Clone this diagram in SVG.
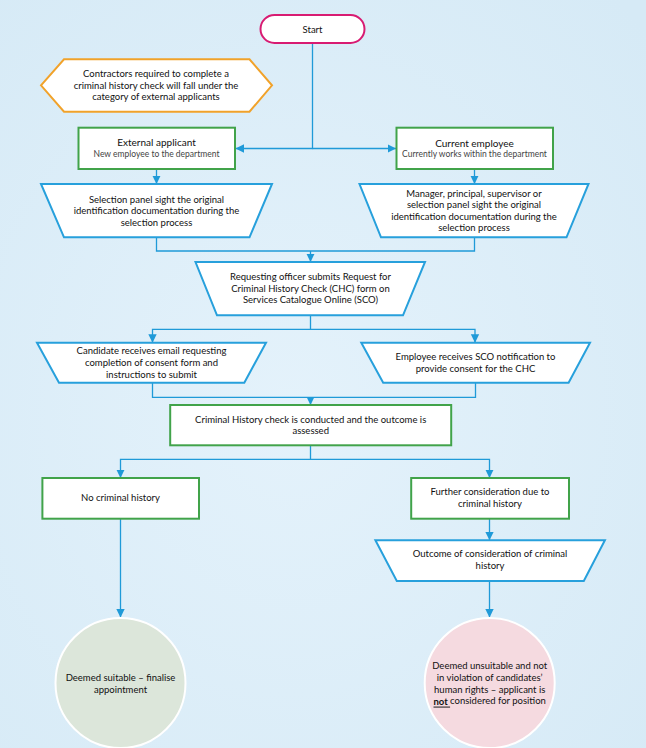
<svg xmlns="http://www.w3.org/2000/svg" width="646" height="748" viewBox="0 0 646 748">
<defs>
<radialGradient id="bg" cx="0.45" cy="0.55" r="0.75">
<stop offset="0" stop-color="#e4f2fb"/>
<stop offset="1" stop-color="#d6eaf6"/>
</radialGradient>
<marker id="ah" markerUnits="userSpaceOnUse" markerWidth="10" markerHeight="10" refX="8.5" refY="5" orient="auto">
<path d="M0,0.8 L8.5,5 L0,9.2 z" fill="#1f9ad8"/>
</marker>
<style>
text{font-family:Lato,"Open Sans",sans-serif;font-size:9.5px;fill:#111;text-anchor:middle;dominant-baseline:central}
.sub{font-size:8.5px;fill:#444}
.hd{font-size:10px}
.term{fill:#fff;stroke:#d81b72;stroke-width:2}
.note{fill:#fff;stroke:#f1a22a;stroke-width:2}
.proc{fill:#fff;stroke:#41a34a;stroke-width:2}
.io{fill:#fff;stroke:#27a0dc;stroke-width:2}
.ok{fill:#dce6da;stroke:#fff;stroke-width:2}
.no{fill:#f5dae0;stroke:#fff;stroke-width:2}
.c path{fill:none;stroke:#1f9ad8;stroke-width:1.3}
.arr{marker-end:url(#ah)}
</style>
</defs>
<rect width="646" height="748" fill="url(#bg)"/>
<g class="c" id="connectors">
<path class="arr" d="M312.5,43 V148.5 H235.5"/>
<path class="arr" d="M312.5,148.5 H396"/>
<path class="arr" d="M156.5,169 V184"/>
<path class="arr" d="M474.5,169 V184"/>
<path d="M156.5,237.3 V251 H474.5 V237.3"/>
<path class="arr" d="M310.5,251 V262"/>
<path class="arr" d="M310.5,315.3 V329.3 H152.5 V342.7"/>
<path class="arr" d="M310.5,329.3 H475 V342.7"/>
<path d="M152.5,382.7 V397.3 H475.5 V382.7"/>
<path class="arr" d="M310.5,397.3 V405"/>
<path class="arr" d="M310.5,445.3 V459.3 H120.5 V478"/>
<path class="arr" d="M310.5,459.3 H489.5 V478"/>
<path class="arr" d="M120.5,518.7 V617.5"/>
<path class="arr" d="M489.5,518.7 V540.3"/>
<path class="arr" d="M489.5,581 V617.5"/>
</g>
<g id="start">
<rect class="term" x="260.5" y="15" width="104" height="28" rx="14"/>
<text x="312.5" y="29">Start</text>
</g>
<g id="note">
<polygon class="note" points="41,85.3 64,59.3 249.5,59.3 272,85.3 249.5,111.7 64,111.7"/>
<text x="156" y="73.4">Contractors required to complete a</text>
<text x="156" y="85">criminal history check will fall under the</text>
<text x="156" y="96.6">category of external applicants</text>
</g>
<g id="external">
<rect class="proc" x="78.5" y="127.7" width="156.5" height="41.3"/>
<text class="hd" x="156.5" y="141.7">External applicant</text>
<text class="sub" x="156.5" y="154.3">New employee to the department</text>
</g>
<g id="current">
<rect class="proc" x="396.5" y="127.7" width="156.5" height="41.3"/>
<text class="hd" x="474.5" y="142.5">Current employee</text>
<text class="sub" x="474.5" y="154">Currently works within the department</text>
</g>
<g id="sight-external">
<polygon class="io" points="41,184 272,184 249.5,237.3 64,237.3"/>
<text x="156.5" y="199.1">Selection panel sight the original</text>
<text x="156.5" y="210.7">identification documentation during the</text>
<text x="156.5" y="222.3">selection process</text>
</g>
<g id="sight-current">
<polygon class="io" points="359.5,184 588.5,184 566.5,237.3 381,237.3"/>
<text x="474" y="193.1">Manager, principal, supervisor or</text>
<text x="474" y="204.7">selection panel sight the original</text>
<text x="474" y="216.3">identification documentation during the</text>
<text x="474" y="227.9">selection process</text>
</g>
<g id="request">
<polygon class="io" points="195.5,262 425,262 403,315.3 217,315.3"/>
<text x="310.5" y="276.7">Requesting officer submits Request for</text>
<text x="310.5" y="288.3">Criminal History Check (CHC) form on</text>
<text x="310.5" y="299.9">Services Catalogue Online (SCO)</text>
</g>
<g id="candidate-email">
<polygon class="io" points="37,342.7 266,342.7 244.3,382.7 59,382.7"/>
<text x="151.5" y="350.8">Candidate receives email requesting</text>
<text x="151.5" y="362.4">completion of consent form and</text>
<text x="151.5" y="374">instructions to submit</text>
</g>
<g id="employee-sco">
<polygon class="io" points="361.3,342.7 590,342.7 568.6,382.7 383.2,382.7"/>
<text x="475.5" y="356.4">Employee receives SCO notification to</text>
<text x="475.5" y="368">provide consent for the CHC</text>
</g>
<g id="check">
<rect class="proc" x="170.2" y="405" width="281" height="40.3"/>
<text x="310.7" y="419.2">Criminal History check is conducted and the outcome is</text>
<text x="310.7" y="430.8">assessed</text>
</g>
<g id="no-history">
<rect class="proc" x="42.4" y="478" width="156.6" height="40.7"/>
<text x="120.5" y="497.7">No criminal history</text>
</g>
<g id="further">
<rect class="proc" x="411.2" y="478" width="157.8" height="40.7"/>
<text x="490" y="491.9">Further consideration due to</text>
<text x="490" y="503.5">criminal history</text>
</g>
<g id="outcome">
<polygon class="io" points="375.4,540.3 604.9,540.3 583.8,581 396.8,581"/>
<text x="490" y="553.9">Outcome of consideration of criminal</text>
<text x="490" y="565.5">history</text>
</g>
<g id="suitable">
<circle class="ok" cx="120.5" cy="683" r="65"/>
<text x="120.5" y="677.8">Deemed suitable – finalise</text>
<text x="120.5" y="689.4">appointment</text>
</g>
<g id="unsuitable">
<circle class="no" cx="489.7" cy="683" r="65"/>
<text x="489.7" y="665.8">Deemed unsuitable and not</text>
<text x="489.7" y="677.4">in violation of candidates’</text>
<text x="489.7" y="689">human rights – applicant is</text>
<text x="489.7" y="700.6"><tspan font-weight="bold" text-decoration="underline">not </tspan>considered for position</text>
</g>
</svg>
